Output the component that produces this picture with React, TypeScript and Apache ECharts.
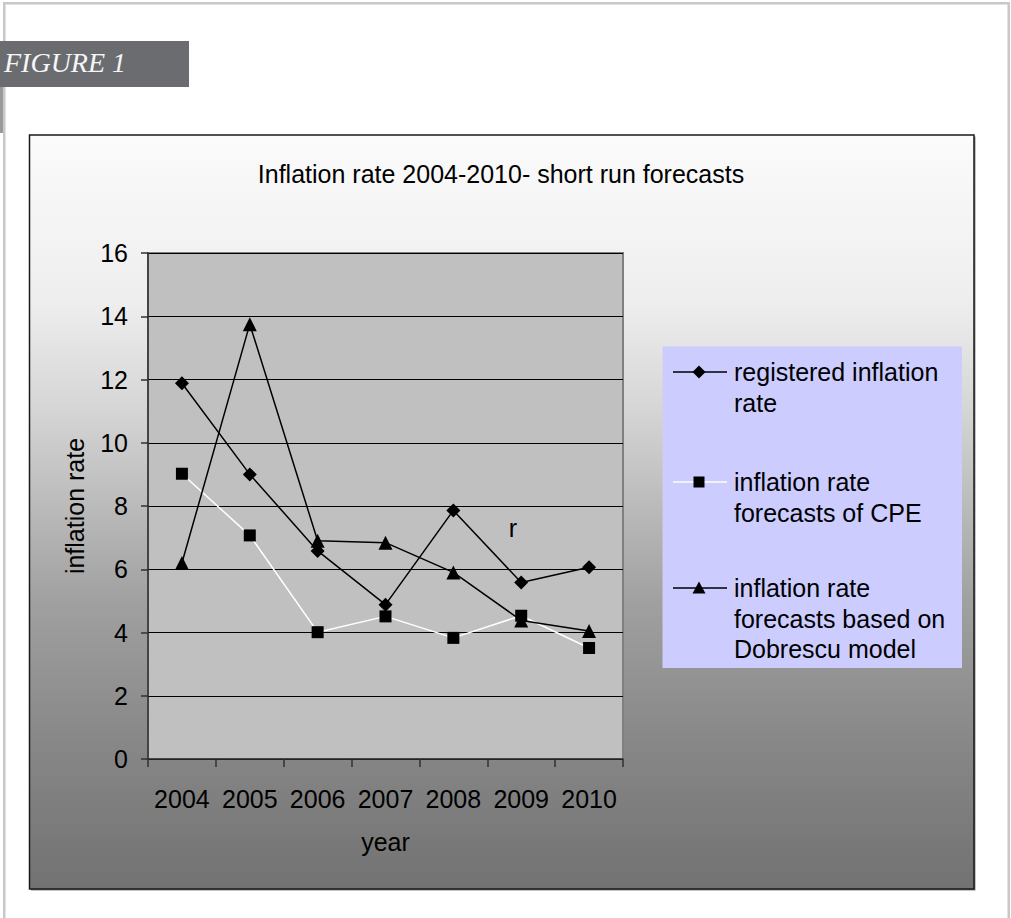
import React, { useEffect, useRef } from "react";
import * as echarts from "echarts";

const categories = ["2004", "2005", "2006", "2007", "2008", "2009", "2010"];
const registeredRate = [11.88, 9.0, 6.58, 4.88, 7.86, 5.58, 6.06];
const cpeForecast = [9.02, 7.07, 4.01, 4.51, 3.83, 4.53, 3.51];
const dobrescuForecast = [6.2, 13.75, 6.9, 6.84, 5.9, 4.38, 4.05];
const seriesNames = [
  "registered inflation rate",
  "inflation rate forecasts of CPE",
  "inflation rate forecasts based on Dobrescu model",
];
const legendLines = [
  ["registered inflation", "rate"],
  ["inflation rate", "forecasts of CPE"],
  ["inflation rate", "forecasts based on", "Dobrescu model"],
];
const titleText = "Inflation rate 2004-2010- short run forecasts";
const yMin = 0;
const yMax = 16;
const yInterval = 2;

const FONT = "'Liberation Sans', Arial, sans-serif";

export default function App() {
  const ref = useRef<HTMLDivElement>(null);

  useEffect(() => {
    if (!ref.current) return;
    const chart = echarts.init(ref.current, undefined, { renderer: "svg" });

    const legendY = [372, 482, 588];
    const lineGap = 30.5;
    const legendGraphics: any[] = [];
    legendLines.forEach((lines, i) => {
      const y = legendY[i];
      legendGraphics.push({
        type: "line",
        z: 5,
        shape: { x1: 673, y1: y, x2: 727, y2: y },
        style: { stroke: i === 1 ? "#ffffff" : "#000000", lineWidth: 1.5 },
      });
      if (i === 0) {
        legendGraphics.push({
          type: "polygon",
          z: 6,
          shape: { points: [[699, y - 6.5], [705.5, y], [699, y + 6.5], [692.5, y]] },
          style: { fill: "#000" },
        });
      } else if (i === 1) {
        legendGraphics.push({
          type: "rect",
          z: 6,
          shape: { x: 693.5, y: y - 5.5, width: 11, height: 11 },
          style: { fill: "#000" },
        });
      } else {
        legendGraphics.push({
          type: "polygon",
          z: 6,
          shape: { points: [[699, y - 6.5], [705.5, y + 5.5], [692.5, y + 5.5]] },
          style: { fill: "#000" },
        });
      }
      lines.forEach((t, j) => {
        legendGraphics.push({
          type: "text",
          z: 6,
          x: 734,
          y: y + j * lineGap,
          style: {
            text: t,
            fill: "#000",
            font: `25px ${FONT}`,
            textAlign: "left",
            textVerticalAlign: "middle",
          },
        });
      });
    });

    const option: any = {
      animation: false,
      graphic: [
        { type: "rect", z: -20, shape: { x: 3, y: 2, width: 1007, height: 2.5 }, style: { fill: "#c8c8c8" } },
        { type: "rect", z: -20, shape: { x: 3, y: 2, width: 2.5, height: 916 }, style: { fill: "#c8c8c8" } },
        { type: "rect", z: -20, shape: { x: 1007.5, y: 2, width: 2.5, height: 916 }, style: { fill: "#c8c8c8" } },
        { type: "rect", z: -19, shape: { x: 0, y: 87, width: 3, height: 46 }, style: { fill: "#9a9a9a" } },
        { type: "rect", z: -19, shape: { x: 0, y: 41, width: 189, height: 46 }, style: { fill: "#6b6c70" } },
        {
          type: "text",
          z: -18,
          x: 4,
          y: 62,
          style: {
            text: "FIGURE 1",
            fill: "#f6f6f6",
            font: `italic 28px 'Liberation Serif', 'DejaVu Serif', serif`,
            textAlign: "left",
            textVerticalAlign: "middle",
          },
        },
        { type: "rect", z: -16, shape: { x: 31, y: 136.5, width: 944.5, height: 754 }, style: { fill: "#8a8a8a" } },
        {
          type: "rect",
          z: -15,
          shape: { x: 29.5, y: 135, width: 944.5, height: 754 },
          style: {
            fill: new echarts.graphic.LinearGradient(0, 0, 0, 1, [
              { offset: 0, color: "#fbfbfb" },
              { offset: 0.22, color: "#eeeeee" },
              { offset: 0.36, color: "#d6d6d6" },
              { offset: 0.62, color: "#a0a0a0" },
              { offset: 0.8, color: "#888888" },
              { offset: 1, color: "#727272" },
            ]),
            stroke: "#1a1a1a",
            lineWidth: 1.5,
          },
        },
        { type: "rect", z: 4, shape: { x: 662.5, y: 346.5, width: 299.5, height: 321.5 }, style: { fill: "#ccccff" } },
        ...legendGraphics,
        {
          type: "text",
          z: 5,
          x: 501,
          y: 174,
          style: {
            text: titleText,
            fill: "#000",
            font: `25px ${FONT}`,
            textAlign: "center",
            textVerticalAlign: "middle",
          },
        },
        {
          type: "text",
          z: 5,
          x: 513,
          y: 528,
          style: {
            text: "r",
            fill: "#000",
            font: `25px ${FONT}`,
            textAlign: "center",
            textVerticalAlign: "middle",
          },
        },
      ],
      grid: {
        show: true,
        left: 148,
        top: 253,
        width: 475,
        height: 506,
        backgroundColor: "#c0c0c0",
        borderColor: "#808080",
        borderWidth: 2,
        containLabel: false,
      },
      xAxis: {
        type: "category",
        data: categories,
        boundaryGap: true,
        name: "year",
        nameLocation: "middle",
        nameGap: 70,
        nameTextStyle: { fontSize: 25, fontFamily: FONT, color: "#000" },
        axisLine: { show: true, lineStyle: { color: "#303030", width: 1.5 } },
        axisTick: { show: true, alignWithLabel: false, length: 8, lineStyle: { color: "#303030", width: 1.5 } },
        axisLabel: { fontSize: 25, fontFamily: FONT, color: "#000", margin: 27, interval: 0 },
        splitLine: { show: false },
      },
      yAxis: {
        type: "value",
        min: yMin,
        max: yMax,
        interval: yInterval,
        name: "inflation rate",
        nameLocation: "middle",
        nameGap: 61,
        nameRotate: 90,
        nameTextStyle: { fontSize: 25, fontFamily: FONT, color: "#000" },
        axisLine: { show: true, lineStyle: { color: "#303030", width: 1.5 } },
        axisTick: { show: true, length: 7, lineStyle: { color: "#303030", width: 1.5 } },
        axisLabel: { fontSize: 25, fontFamily: FONT, color: "#000", margin: 20 },
        splitLine: { show: true, lineStyle: { color: "#000", width: 1 } },
      },
      series: [
        {
          name: seriesNames[0],
          type: "line",
          data: registeredRate,
          symbol: "diamond",
          symbolSize: 14,
          itemStyle: { color: "#000" },
          lineStyle: { color: "#000", width: 1.5 },
          z: 3,
        },
        {
          name: seriesNames[1],
          type: "line",
          data: cpeForecast,
          symbol: "rect",
          symbolSize: 12,
          itemStyle: { color: "#000" },
          lineStyle: { color: "#fff", width: 1.5 },
          z: 3,
        },
        {
          name: seriesNames[2],
          type: "line",
          data: dobrescuForecast,
          symbol: "triangle",
          symbolSize: 14,
          itemStyle: { color: "#000" },
          lineStyle: { color: "#000", width: 1.5 },
          z: 3,
        },
      ],
    };

    chart.setOption(option);
    return () => chart.dispose();
  }, []);

  return (
    <div
      ref={ref}
      style={{ position: "fixed", left: 0, top: 0, width: 1011, height: 918, background: "#fff" }}
    />
  );
}
